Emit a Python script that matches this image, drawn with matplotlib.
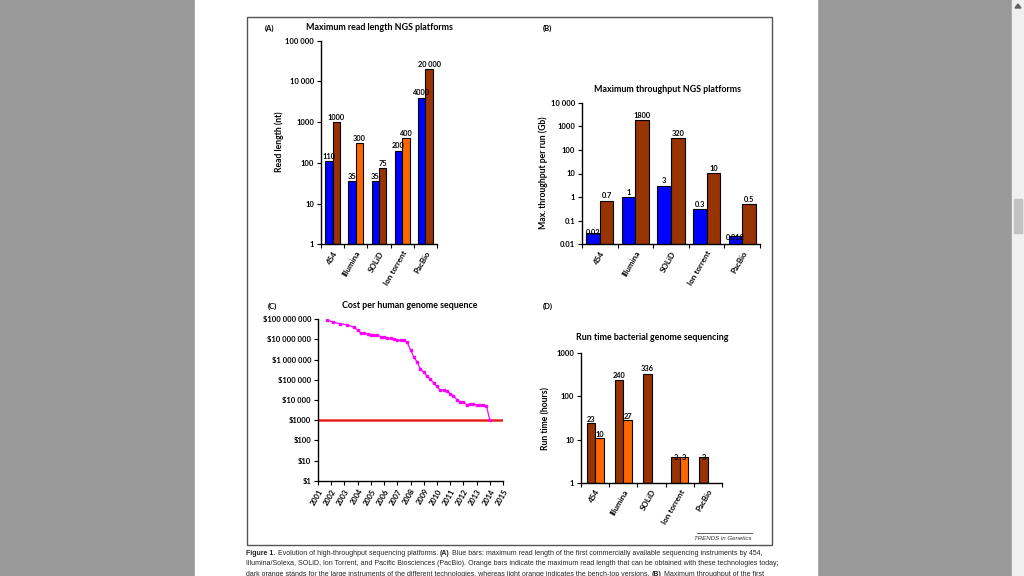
"""Screenshot of a journal figure: four NGS platform panels (read length,
throughput, cost per genome, run time) on a white page over grey."""
import numpy as np
import matplotlib
matplotlib.use("Agg")
import matplotlib.pyplot as plt
from matplotlib.patches import Rectangle, Polygon
from matplotlib.lines import Line2D
from matplotlib.ticker import FixedLocator, NullLocator

# ── data ────────────────────────────────────────────────────────────────────
platforms = ["454", "Illumina", "SOLiD", "Ion torrent", "PacBio"]

# (A) maximum read length (nt)
read_first = [110, 35, 35, 200, 4000]
read_today = [1000, 300, 75, 400, 20000]
read_today_benchtop = [False, True, False, True, False]

# (B) maximum throughput per run (Gb)
tp_first = [0.02, 1, 3, 0.3, 0.012]
tp_today = [0.7, 1800, 320, 10, 0.5]

# (C) cost per human genome (USD)
cost_month = ["2001-09", "2002-03", "2002-09", "2003-03", "2003-10",
              "2004-01", "2004-04", "2004-07", "2004-10", "2005-01",
              "2005-04", "2005-07", "2005-10", "2006-01", "2006-04",
              "2006-07", "2006-10", "2007-01", "2007-04", "2007-07",
              "2007-10", "2008-01", "2008-04", "2008-07", "2008-10",
              "2009-01", "2009-04", "2009-07", "2009-10", "2010-01",
              "2010-04", "2010-07", "2010-10", "2011-01", "2011-04",
              "2011-07", "2011-10", "2012-01", "2012-04", "2012-07",
              "2012-10", "2013-01", "2013-04", "2013-07", "2013-10",
              "2014-01"]
cost_usd = [95263072, 70175437, 61448422, 53751684, 40157554,
            28780376, 20442576, 19934346, 18519312, 17534970,
            16159699, 16180224, 13801124, 12585659, 11732535,
            11455315, 10474556, 9408739, 9047003, 8927342,
            7147571, 3063820, 1352982, 752080, 342502,
            232735, 154714, 108065, 70333, 46774,
            31512, 31125, 29092, 20963, 16712,
            10497, 7743, 7666, 5901, 5985,
            6618, 5671, 5826, 5550, 5096,
            1000]
cost_target = 1000
years = list(range(2001, 2016))

# (D) run time bacterial genome (hours)
run_large = [23, 240, 336, 3, 3]
run_benchtop = [10, 27, np.nan, 3, np.nan]

caption = [
    [("Figure 1.", "bold"), (" Evolution of high-throughput sequencing platforms. ", "normal"),
     ("(A)", "bold"), (" Blue bars: maximum read length of the first commercially available "
                       "sequencing instruments by 454,", "normal")],
    [("Illumina/Solexa, SOLiD, Ion Torrent, and Pacific Biosciences (PacBio). Orange bars "
      "indicate the maximum read length that can be obtained with these technologies today;",
      "normal")],
    [("dark orange stands for the large instruments of the different technologies, whereas "
      "light orange indicates the bench-top versions. ", "normal"), ("(B)", "bold"),
     (" Maximum throughput of the first", "normal")],
]

# ── colours / fonts ─────────────────────────────────────────────────────────
BLUE = "#0000ff"
DARK = "#993300"
LIGHT = "#ff6600"
MAGENTA = "#ff00ff"
RED = "#e8211d"
GREY = "#999999"
FONT = "Lato"
plt.rcParams["font.family"] = [FONT, "DejaVu Sans"]
plt.rcParams["axes.linewidth"] = 1.0

W, H = 1024, 576
fig = plt.figure(figsize=(W / 100, H / 100), dpi=100, facecolor=GREY)


def fx(x): return x / W
def fy(y): return 1 - y / H


def px_axes(l, t, r, b):
    return fig.add_axes([fx(l), fy(b), (r - l) / W, (b - t) / H])


def ftext(x, y, s, **kw):
    kw.setdefault("fontweight", "bold")
    return fig.text(fx(x), fy(y), s, **kw)


# page + scrollbar + figure frame
fig.patches.append(Rectangle((fx(195), 0), fx(817) - fx(195), 1,
                             transform=fig.transFigure, color="white", zorder=-10))
fig.patches.append(Rectangle((fx(1012), 0), fx(1024) - fx(1012), 1,
                             transform=fig.transFigure, color="#f0f0f0", zorder=-9))
fig.patches.append(Rectangle((fx(1014), fy(233)), fx(1022) - fx(1014), fy(199) - fy(233),
                             transform=fig.transFigure, color="#c2c2c2", zorder=-8))
fig.patches.append(Polygon([(fx(1015), fy(8)), (fx(1018), fy(4)), (fx(1021), fy(8))],
                           closed=True, transform=fig.transFigure, color="#606060", zorder=-8))
fig.patches.append(Rectangle((fx(246.5), fy(545)), fx(772) - fx(246.5), fy(16.7) - fy(545),
                             transform=fig.transFigure, fill=False, ec="#555555", lw=1.0))


def log_axis(ax, ticks, labels):
    ax.set_yscale("log")
    ax.set_ylim(ticks[0], ticks[-1])
    ax.yaxis.set_major_locator(FixedLocator(ticks))
    ax.yaxis.set_minor_locator(NullLocator())
    ax.set_yticklabels(labels, fontsize=5.5, fontweight="bold")
    for s in ("top", "right"):
        ax.spines[s].set_visible(False)
    ax.tick_params(axis="y", direction="out", length=3, width=0.8, pad=2)
    ax.set_facecolor("none")


def category_axis(ax):
    n = len(platforms)
    ax.set_xlim(-0.5, n - 0.5)
    ax.set_xticks(np.arange(n))
    ax.set_xticklabels(platforms, rotation=60, ha="right", rotation_mode="anchor",
                       fontsize=5.8, fontweight="bold")
    ax.xaxis.set_minor_locator(FixedLocator(np.arange(n + 1) - 0.5))
    ax.tick_params(axis="x", which="major", length=0, pad=4)
    ax.tick_params(axis="x", which="minor", direction="out", length=3, width=0.8)


def bars(ax, xs, vals, colors, width, labels=None):
    for x, v, c, lab in zip(xs, vals, colors, labels or [None] * len(vals)):
        if np.isnan(v):
            continue
        ax.bar(x, v, width=width, bottom=ax.get_ylim()[0], color=c,
               edgecolor="black", linewidth=0.8)
        txt = lab if lab is not None else f"{v:g}"
        ax.annotate(txt, (x, v), xytext=(0, 1), textcoords="offset points",
                    ha="center", va="bottom", fontsize=5.3, fontweight="bold")


x = np.arange(len(platforms))

# ── (A) read length ─────────────────────────────────────────────────────────
axA = px_axes(321, 40.7, 437, 244.3)
log_axis(axA, [1, 10, 100, 1000, 10000, 100000],
         ["1", "10", "100", "1000", "10 000", "100 000"])
category_axis(axA)
wA = 0.32
bars(axA, x - wA / 2, read_first, [BLUE] * 5, wA)
bars(axA, x + wA / 2, read_today,
     [LIGHT if b else DARK for b in read_today_benchtop], wA,
     labels=[f"{v:,}".replace(",", " ") if v >= 10000 else f"{v}" for v in read_today])
ftext(265, 28, "(A)", fontsize=5.5, va="center")
ftext(379, 28, "Maximum read length NGS platforms", fontsize=6.4, ha="center", va="center")
ftext(279, 142, "Read length (nt)", fontsize=6.2, rotation=90, ha="center", va="center")

# ── (B) throughput ──────────────────────────────────────────────────────────
axB = px_axes(582, 102.7, 760, 244.3)
log_axis(axB, [0.01, 0.1, 1, 10, 100, 1000, 10000],
         ["0.01", "0.1", "1", "10", "100", "1000", "10 000"])
category_axis(axB)
wB = 0.38
bars(axB, x - wB / 2, tp_first, [BLUE] * 5, wB)
bars(axB, x + wB / 2, tp_today, [DARK] * 5, wB)
ftext(543, 28, "(B)", fontsize=5.5, va="center")
ftext(667, 90, "Maximum throughput NGS platforms", fontsize=6.4, ha="center", va="center")
ftext(543, 173, "Max. throughput per run (Gb)", fontsize=6.2, rotation=90,
      ha="center", va="center")

# ── (C) cost per genome ─────────────────────────────────────────────────────
axC = px_axes(318, 319.3, 503, 480.7)
log_axis(axC, [1, 10, 100, 1000, 1e4, 1e5, 1e6, 1e7, 1e8],
         ["$1", "$10", "$100", "$1000", "$10 000", "$100 000", "$1 000 000",
          "$10 000 000", "$100 000 000"])
dec_year = [int(m[:4]) + (int(m[5:]) - 1) / 12 for m in cost_month]
axC.plot(years[0:1] + years[-1:], [cost_target] * 2, color=RED, lw=1.8,
         solid_capstyle="butt", zorder=2)
axC.plot(dec_year, cost_usd, color=MAGENTA, lw=0.9, marker="s", ms=1.8, zorder=3)
axC.set_xlim(years[0], years[-1])
axC.set_xticks(years)
axC.set_xticklabels([str(y) for y in years], rotation=60, ha="right",
                    rotation_mode="anchor", fontsize=5.4, fontweight="bold")
axC.tick_params(axis="x", direction="out", length=3, width=0.8, pad=2)
ftext(268, 306, "(C)", fontsize=5.5, va="center")
ftext(410, 306, "Cost per human genome sequence", fontsize=6.4, ha="center", va="center")

# ── (D) run time ────────────────────────────────────────────────────────────
axD = px_axes(581, 353.3, 722, 482.7)
log_axis(axD, [1, 10, 100, 1000], ["1", "10", "100", "1000"])
category_axis(axD)
wD = 0.3
bars(axD, x - wD / 2, run_large, [DARK] * 5, wD)
bars(axD, x + wD / 2, run_benchtop, [LIGHT] * 5, wD)
ftext(543, 306, "(D)", fontsize=5.5, va="center")
ftext(652, 337, "Run time bacterial genome sequencing", fontsize=6.4, ha="center", va="center")
ftext(546, 418, "Run time (hours)", fontsize=6.2, rotation=90, ha="center", va="center")

# ── footer: journal tag + caption ───────────────────────────────────────────
fig.add_artist(Line2D([fx(697), fx(752)], [fy(532.5), fy(532.5)], color="#444444", lw=0.6))
fig.text(fx(752), fy(538.5), "TRENDS in Genetics", fontsize=4.4, style="italic",
         ha="right", va="center", family="Liberation Sans", color="#333333")

overlay = fig.add_axes([0, 0, 1, 1])
overlay.axis("off")
overlay.set_zorder(-5)
for i, parts in enumerate(caption):
    y = 557 + i * 10.4
    prev = None
    for s, wgt in parts:
        kw = dict(fontsize=5.0, fontweight=wgt, family="Liberation Sans",
                  color="#222222", va="bottom", ha="left")
        if prev is None:
            prev = overlay.text(fx(246.5), fy(y), s, transform=fig.transFigure, **kw)
        else:
            prev = overlay.annotate(s, xy=(1, 0), xycoords=prev, **kw)

plt.savefig("out.png", dpi=100, facecolor=GREY)
